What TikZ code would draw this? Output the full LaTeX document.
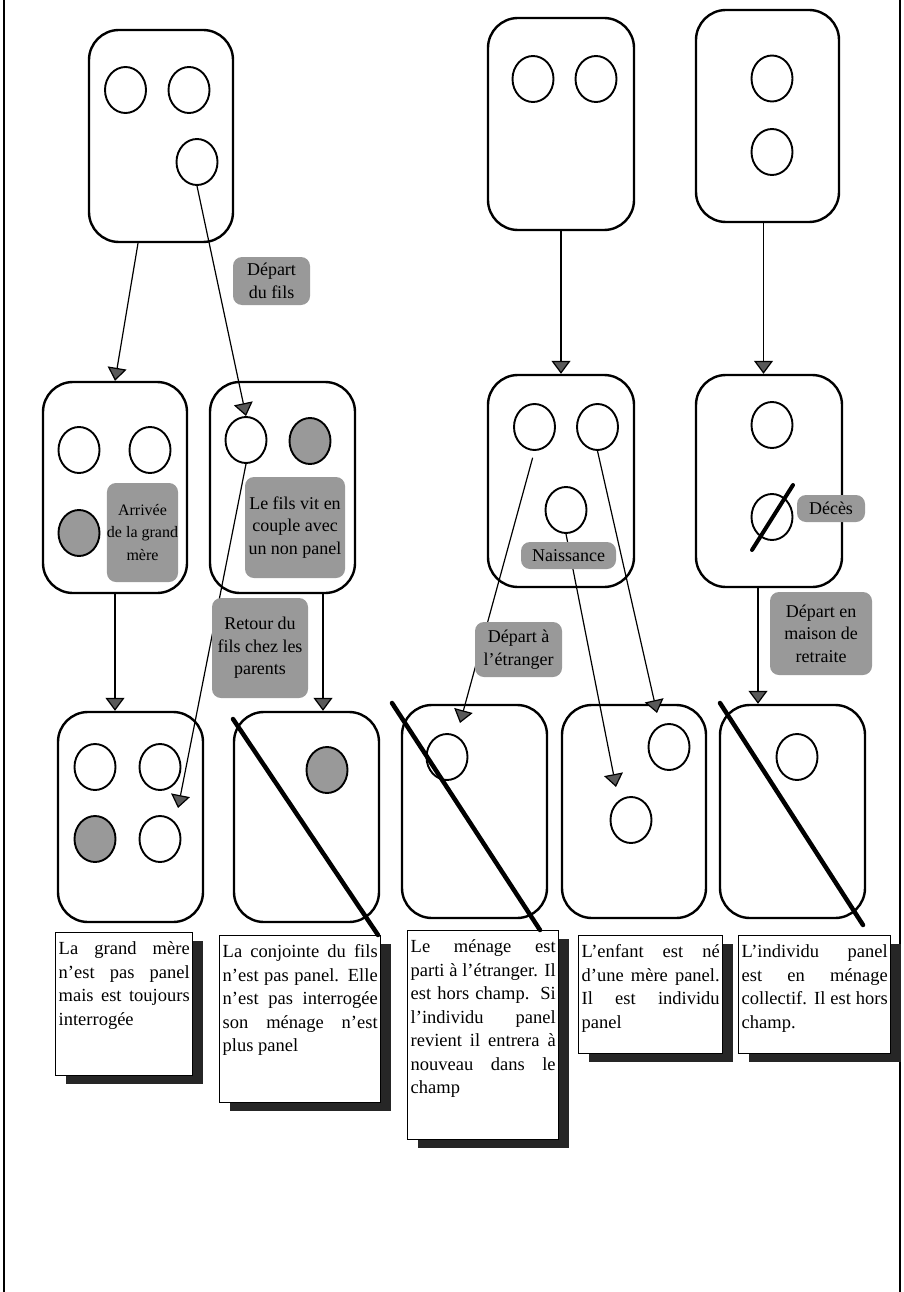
\documentclass[tikz,border=0pt]{standalone}
\usepackage{fontspec}
\setmainfont{Liberation Serif}
\usetikzlibrary{shapes.geometric,arrows.meta,shadows,calc}
\newcommand\tbtext[3]{\parbox[t][#2][t]{#1}{\fontsize{18.5}{23.5}\selectfont\hyphenpenalty=10000\rule{0pt}{19pt}#3}}
\begin{document}
\begin{tikzpicture}[x=1pt,y=-1pt,
  hbox/.style={draw,line width=2.4pt,rounded corners=30pt,inner sep=0pt,minimum width=144pt,minimum height=212pt},
  pers/.style={draw,ellipse,line width=1.9pt,inner sep=0pt,minimum width=41pt,minimum height=46pt},
  pgrey/.style={pers,fill=black!40},
  arr/.style={line width=1.2pt,-{Triangle[length=13pt,width=19pt,fill=black!65]}},
  lab/.style={fill=black!40,rounded corners=9pt,inner sep=0pt,align=center,font=\fontsize{18}{22.5}\selectfont},
  slash/.style={line width=4.5pt,line cap=round},
  tbox/.style={draw,line width=1.4pt,fill=white,anchor=north west,inner sep=3pt,drop shadow={shadow xshift=10pt,shadow yshift=-8pt,fill=black!85,opacity=1}},
  pageedge/.style={line width=1.8pt}
]
\useasboundingbox (0,0) rectangle (903,1292);
% page edges
\draw[pageedge] (4,0) -- (4,1292);
\draw[pageedge] (900,0) -- (900,1292);

% ---- households, top row
\node[hbox] (A) at (161,136) {};
\node[pers] (a1) at (125.5,90) {};
\node[pers] (a2) at (189,90) {};
\node[pers] (a3) at (197,162) {};

\node[hbox,minimum width=146pt] (C) at (561,124) {};
\node[pers] (c1) at (533,79) {};
\node[pers] (c2) at (596,79) {};

\node[hbox,minimum width=143pt] (D) at (767.5,116) {};
\node[pers] (d1) at (772,78.5) {};
\node[pers] (d2) at (772,152) {};

% ---- middle row
\node[hbox,minimum height=211pt] (B1) at (115,487.5) {};
\node[pers] (b11) at (79,450) {};
\node[pers] (b12) at (150,450) {};
\node[pgrey] (b13) at (79,533) {};

\node[hbox,minimum width=145pt,minimum height=211pt] (B2) at (282.5,487.5) {};
\node[pers] (b21) at (246,440) {};
\node[pgrey] (b22) at (310,441) {};

\node[hbox,minimum width=146pt] (C2) at (561,481) {};
\node[pers] (c21) at (534.5,427) {};
\node[pers] (c22) at (597.5,427) {};
\node[pers] (c23) at (566,510) {};

\node[hbox,minimum width=146pt] (D2) at (769,481) {};
\node[pers] (d21) at (772,425) {};
\node[pers] (d22) at (772,517) {};

% ---- bottom row
\node[hbox,minimum width=145pt,minimum height=210pt] (E1) at (130.5,817) {};
\node[pers] (e11) at (95,767) {};
\node[pers] (e12) at (160,767) {};
\node[pgrey] (e13) at (95,839) {};
\node[pers] (e14) at (160,839) {};

\node[hbox,minimum width=145pt,minimum height=210pt] (E2) at (306.5,817) {};
\node[pgrey] (e21) at (327,770) {};

\node[hbox,minimum width=145pt,minimum height=213pt] (E3) at (474.5,811.5) {};
\node[pers] (e31) at (447,757) {};

\node[hbox,minimum width=144pt,minimum height=213pt] (E4) at (634,811.5) {};
\node[pers] (e41) at (669,747) {};
\node[pers] (e42) at (631,820) {};

\node[hbox,minimum width=145pt,minimum height=213pt] (E5) at (792.5,811.5) {};
\node[pers] (e51) at (797,757) {};

% ---- free arrow ends
\coordinate (tRet) at (178,808);
\coordinate (tEtr) at (460,723);
\coordinate (tPar) at (657,713);
\coordinate (tNai) at (616,787);

% ---- connectors
\draw[arr] ([xshift=-23pt]A.south) -- (B1.north);
\draw[arr] (a3.south) -- (b21.north);
\draw[arr] (B1.south) -- (B1.south |- E1.north);
\draw[arr] ([xshift=40.5pt]B2.south) -- ([xshift=40.5pt]B2.south |- E2.north);
\draw[arr] (b21.south) -- (tRet);
\draw[arr] (C.south) -- (C.south |- C2.north);
\draw[arr] ([xshift=-4pt]D.south) -- ([xshift=-4pt]D.south |- D2.north);
\draw[arr] ([xshift=-11pt]D2.south) -- ([xshift=-11pt]D2.south |- E5.north);
\draw[arr,shorten <=7pt] (c21.south) -- (tEtr);
\draw[arr] (c22.south) -- (tPar);
\draw[arr] (c23.south) -- (tNai);

% ---- event labels
\node[lab,minimum width=77pt,minimum height=48pt] (L1) at (271.5,281) {Départ\\du fils};
\node[lab,minimum width=71pt,minimum height=99pt,font=\fontsize{16}{22.5}\selectfont] (L2) at (142.5,532.5) {Arrivée\\de la grand\\mère};
\node[lab,minimum width=100pt,minimum height=101pt] (L3) at (295,527.5) {Le fils vit en\\couple avec\\un non panel};
\node[lab,minimum width=96pt,minimum height=100pt] (L4) at (260,648) {Retour du\\fils chez les\\parents};
\node[lab,minimum width=95pt,minimum height=27pt] (L5) at (568.5,555.5) {Naissance};
\node[lab,minimum width=68pt,minimum height=27pt] (L6) at (831,508.5) {Décès};
\node[lab,minimum width=87pt,minimum height=55pt] (L7) at (518.5,649.5) {Départ à\\l’étranger};
\node[lab,minimum width=102pt,minimum height=83pt] (L8) at (821,633.5) {Départ en\\maison de\\retraite};

% ---- text boxes
\node[tbox] (T1) at (55,932) {\tbtext{131pt}{137pt}{La grand mère\linebreak n’est pas panel\linebreak mais est toujours\linebreak interrogée}};
\node[tbox] (T2) at (219,935) {\tbtext{155pt}{161pt}{La conjointe du fils\linebreak n’est pas panel. Elle\linebreak n’est pas interrogée\linebreak son ménage n’est\linebreak plus panel}};
\node[tbox] (T3) at (407,930) {\tbtext{145pt}{203pt}{Le ménage est\linebreak parti à l’étranger. Il\linebreak est hors champ. Si\linebreak l’individu panel\linebreak revient il entrera à\linebreak nouveau dans le\linebreak champ}};
\node[tbox] (T4) at (578,935) {\tbtext{138pt}{112pt}{L’enfant est né\linebreak d’une mère panel.\linebreak Il est individu\linebreak panel}};
\node[tbox] (T5) at (738,935) {\tbtext{146pt}{112pt}{L’individu panel\linebreak est en ménage\linebreak collectif. Il est hors\linebreak champ.}};

% ---- strike-through lines
\draw[slash] (233,719) -- (378,935);
\draw[slash] (392,703) -- (540,930);
\draw[slash] (720,703) -- (863,925);
\draw[slash,line width=4pt] (752,550) -- (793,485);
\end{tikzpicture}
\end{document}
